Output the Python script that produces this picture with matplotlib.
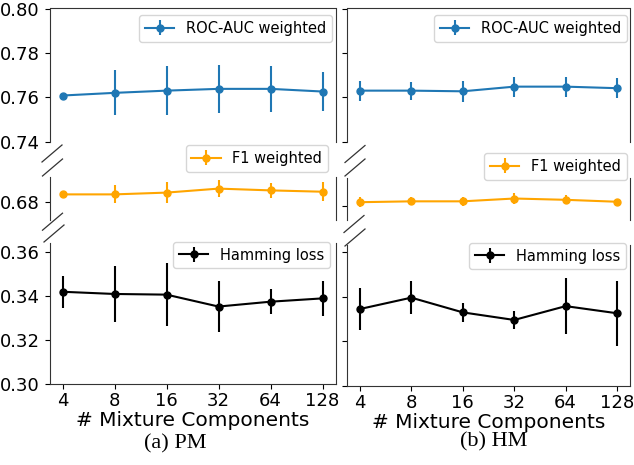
import numpy as np
import matplotlib
matplotlib.use("Agg")
from matplotlib import pyplot as plt
from matplotlib.lines import Line2D

# values
comps = [4, 8, 16, 32, 64, 128]
comp_labels = ["4", "8", "16", "32", "64", "128"]

pm_roc = [0.7608, 0.7620, 0.7630, 0.7638, 0.7638, 0.7626]
pm_roc_err = [0.0003, 0.0101, 0.0109, 0.0107, 0.0104, 0.0086]
pm_f1 = [0.6833, 0.6833, 0.6841, 0.6859, 0.6851, 0.6845]
pm_f1_err = [0.0004, 0.0041, 0.0049, 0.0039, 0.0033, 0.0043]
pm_ham = [0.3418, 0.3408, 0.3405, 0.3351, 0.3373, 0.3388]
pm_ham_err = [0.0073, 0.0126, 0.0144, 0.0115, 0.0057, 0.0078]

hm_roc = [0.7630, 0.7630, 0.7627, 0.7648, 0.7648, 0.7641]
hm_roc_err = [0.0045, 0.0040, 0.0047, 0.0045, 0.0045, 0.0044]
hm_f1 = [0.6819, 0.6823, 0.6823, 0.6836, 0.6830, 0.6821]
hm_f1_err = [0.0023, 0.0019, 0.0021, 0.0025, 0.0020, 0.0008]
hm_ham = [0.3345, 0.3396, 0.3330, 0.3296, 0.3358, 0.3326]
hm_ham_err = [0.0095, 0.0075, 0.0041, 0.0042, 0.0125, 0.0146]

series_names = ["ROC-AUC weighted", "F1 weighted", "Hamming loss"]
series_colors = ["#1f77b4", "orange", "black"]

W, H = 634, 465


def add_px_axes(fig, x0, y0, x1, y1):
    '''axes from a pixel box, y measured from the top'''
    return fig.add_axes([x0 / W, 1 - y1 / H, (x1 - x0) / W, (y1 - y0) / H])


def break_mark(fig, xc, yc):
    fig.add_artist(Line2D([(xc - 10) / W, (xc + 10) / W],
                          [1 - (yc + 8.5) / H, 1 - (yc - 8.5) / H],
                          color="#333333", lw=0.9))


def draw_column(fig, x0, x1, boxes, ylims, data, legend_pos, marks, caption, caption_pos, labels=True):
    axs = []
    for i, ((y0, y1), ylim, (vals, errs)) in enumerate(zip(boxes, ylims, data)):
        ax = add_px_axes(fig, x0, y0, x1, y1)
        ax.errorbar(comps, vals, yerr=errs, fmt="-o", color=series_colors[i],
                    ms=5, lw=1.5, elinewidth=1.5, label=series_names[i])
        ax.set_xscale("log", base=2)
        ax.set_xticks(comps)
        ax.set_xticklabels(comp_labels)
        ax.xaxis.set_minor_locator(matplotlib.ticker.NullLocator())
        ax.set_ylim(*ylim)
        ax.tick_params(labelsize=13, length=3.5, width=0.8)
        ax.tick_params(axis="x", pad=2.5)
        if not labels:
            ax.tick_params(labelleft=False)
        for sp in ax.spines.values():
            sp.set_color("#333333")
        lx, ly = legend_pos[i]
        ax.legend(loc="upper right", bbox_to_anchor=(lx / W, 1 - ly / H),
                  bbox_transform=fig.transFigure, borderaxespad=0, fontsize=10.5)
        axs.append(ax)

    top, mid, bot = axs
    top.set_yticks([0.74, 0.76, 0.78, 0.80])
    mid.set_yticks([0.68])
    bot.set_yticks([0.30, 0.32, 0.34, 0.36])
    top.spines["bottom"].set_visible(False)
    mid.spines["bottom"].set_visible(False)
    mid.spines["top"].set_visible(False)
    bot.spines["top"].set_visible(False)
    for ax in (top, mid):
        ax.tick_params(bottom=False, labelbottom=False)
    bot.set_xlabel("# Mixture Components", fontsize=14.5, labelpad=0.5)

    for xc, yc in marks:
        break_mark(fig, xc, yc)

    fig.text(caption_pos[0] / W, 1 - caption_pos[1] / H, caption, ha="center", va="center",
             family="Liberation Serif", fontsize=16)


fig = plt.figure(figsize=(W / 100, H / 100), dpi=100)

draw_column(fig, 49.5, 335.5,
            [(8.5, 141.7), (177, 220), (243, 384)],
            [(0.74, 0.80), (0.67176, 0.69113), (0.30, 0.3639)],
            [(pm_roc, pm_roc_err), (pm_f1, pm_f1_err), (pm_ham, pm_ham_err)],
            [(332, 15), (328, 145), (330, 241.7)],
            [(52, 153.5), (52.5, 167.5), (52.5, 221.7), (54, 233.5)],
            "(a) PM", (175, 444))

draw_column(fig, 347, 630,
            [(8.5, 141.7), (178, 220), (245, 386)],
            [(0.74, 0.80), (0.67369, 0.69306), (0.30, 0.3632)],
            [(hm_roc, hm_roc_err), (hm_f1, hm_f1_err), (hm_ham, hm_ham_err)],
            [(627, 15), (626.7, 153), (626, 242.7)],
            [(355, 154), (355, 167.5), (354, 224), (355, 237.5)],
            "(b) HM", (494, 442), labels=False)

plt.savefig("out.png", dpi=100)
plt.close()
